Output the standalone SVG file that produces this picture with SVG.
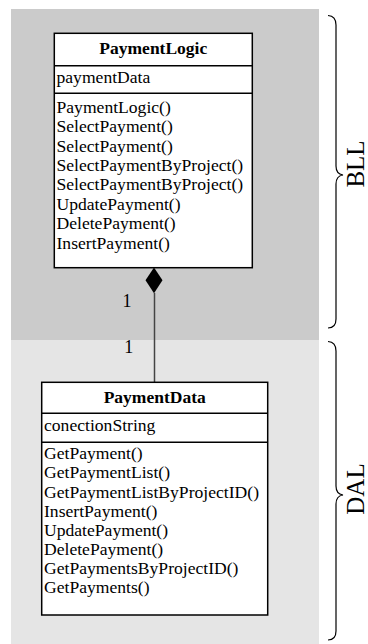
<svg xmlns="http://www.w3.org/2000/svg" width="368" height="644" viewBox="0 0 368 644">
  <style>
    .box { fill: #ffffff; stroke: #000000; stroke-width: 1.5; }
    .sep { stroke: #000000; stroke-width: 1.5; }
    .title { font-family: "Liberation Serif", "Times New Roman", serif; font-size: 17.5px; font-weight: bold; text-anchor: middle; fill: #000000; }
    .item { font-family: "Liberation Serif", "Times New Roman", serif; font-size: 17.6px; fill: #000000; }
    .mult { font-family: "Liberation Serif", "Times New Roman", serif; font-size: 18px; fill: #000000; }
    .layer { font-family: "Liberation Serif", "Times New Roman", serif; font-size: 25px; text-anchor: middle; fill: #000000; }
    .brace { fill: none; stroke: #000000; stroke-width: 1.2; }
    .link { stroke: #444444; stroke-width: 1.5; fill: none; }
  </style>

  <!-- layer backgrounds -->
  <rect id="bll-band" x="11" y="9" width="308" height="331.5" fill="#cbcbcb"/>
  <rect id="dal-band" x="11" y="340.5" width="308" height="303.5" fill="#e5e5e5"/>

  <!-- layer braces and labels -->
  <g id="bll-label">
    <path class="brace" d="M328,15.5 Q336,16 336,25 L336,166 Q336,174 343,175 Q336,176 336,184 L336,319 Q336,328 328,328"/>
    <text class="layer" transform="translate(364,164) rotate(-90)">BLL</text>
  </g>
  <g id="dal-label">
    <path class="brace" d="M328,341.5 Q336,342 336,351 L336,486 Q336,494 343,495 Q336,496 336,504 L336,631 Q336,640 328,640"/>
    <text class="layer" transform="translate(364,489) rotate(-90)">DAL</text>
  </g>

  <!-- composition connector -->
  <g id="connectors">
    <line class="link" x1="154.5" y1="293" x2="154.5" y2="382.3"/>
    <polygon points="154,267.5 162.5,280.3 154,293.3 145.5,280.3" fill="#000000"/>
    <text class="mult" x="122.5" y="306.7">1</text>
    <text class="mult" x="124.3" y="352.7">1</text>
  </g>

  <!-- PaymentLogic class -->
  <g id="PaymentLogic">
    <rect class="box" x="54.3" y="33.3" width="198" height="234.4"/>
    <line class="sep" x1="54.3" y1="65.7" x2="252.3" y2="65.7"/>
    <line class="sep" x1="54.3" y1="93.3" x2="252.3" y2="93.3"/>
    <text class="title" x="153.3" y="54.3">PaymentLogic</text>
    <text class="item" x="56.5" y="83.3">paymentData</text>
    <text class="item" x="56.5" y="112.7">PaymentLogic()</text>
    <text class="item" x="56.5" y="132.1">SelectPayment()</text>
    <text class="item" x="56.5" y="151.5">SelectPayment()</text>
    <text class="item" x="56.5" y="170.9">SelectPaymentByProject()</text>
    <text class="item" x="56.5" y="190.3">SelectPaymentByProject()</text>
    <text class="item" x="56.5" y="209.7">UpdatePayment()</text>
    <text class="item" x="56.5" y="229.1">DeletePayment()</text>
    <text class="item" x="56.5" y="248.5">InsertPayment()</text>
  </g>

  <!-- PaymentData class -->
  <g id="PaymentData">
    <rect class="box" x="41.7" y="382.3" width="226" height="232.7"/>
    <line class="sep" x1="41.7" y1="413.3" x2="267.7" y2="413.3"/>
    <line class="sep" x1="41.7" y1="442.3" x2="267.7" y2="442.3"/>
    <text class="title" x="154.7" y="403.3">PaymentData</text>
    <text class="item" x="44" y="430.7">conectionString</text>
    <text class="item" x="44" y="459.3">GetPayment()</text>
    <text class="item" x="44" y="478.4">GetPaymentList()</text>
    <text class="item" x="44" y="497.5">GetPaymentListByProjectID()</text>
    <text class="item" x="44" y="516.6">InsertPayment()</text>
    <text class="item" x="44" y="535.7">UpdatePayment()</text>
    <text class="item" x="44" y="554.8">DeletePayment()</text>
    <text class="item" x="44" y="573.9">GetPaymentsByProjectID()</text>
    <text class="item" x="44" y="593">GetPayments()</text>
  </g>
</svg>
